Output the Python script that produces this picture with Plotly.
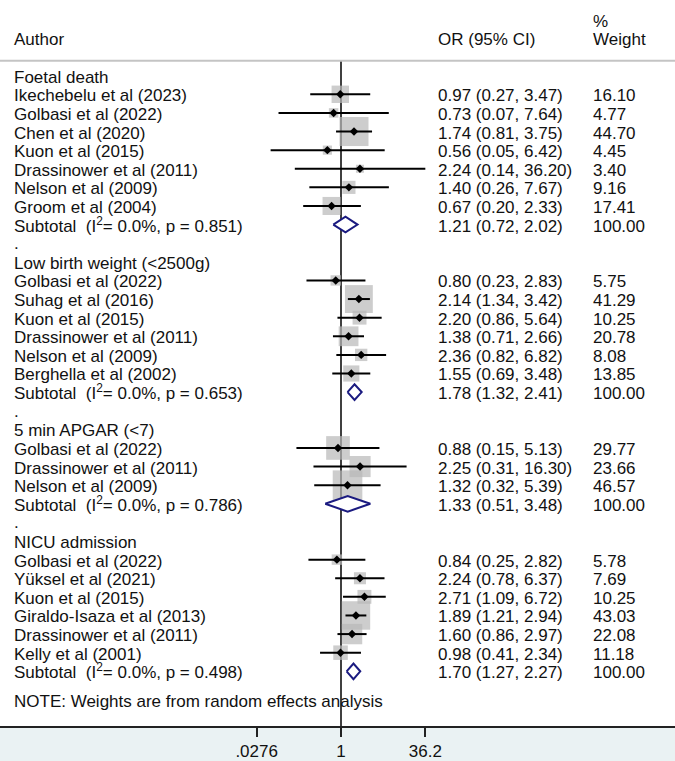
import plotly.graph_objects as go

# ---------------- data ----------------
group_names = ["Foetal death", "Low birth weight (<2500g)", "5 min APGAR (<7)", "NICU admission"]

fd_authors = ["Ikechebelu et al (2023)", "Golbasi et al (2022)", "Chen et al (2020)", "Kuon et al (2015)",
              "Drassinower et al (2011)", "Nelson et al (2009)", "Groom et al (2004)"]
fd_or = [0.97, 0.73, 1.74, 0.56, 2.24, 1.40, 0.67]
fd_lo = [0.27, 0.07, 0.81, 0.05, 0.14, 0.26, 0.20]
fd_hi = [3.47, 7.64, 3.75, 6.42, 36.20, 7.67, 2.33]
fd_w = [16.10, 4.77, 44.70, 4.45, 3.40, 9.16, 17.41]

lbw_authors = ["Golbasi et al (2022)", "Suhag et al (2016)", "Kuon et al (2015)", "Drassinower et al (2011)",
               "Nelson et al (2009)", "Berghella et al (2002)"]
lbw_or = [0.80, 2.14, 2.20, 1.38, 2.36, 1.55]
lbw_lo = [0.23, 1.34, 0.86, 0.71, 0.82, 0.69]
lbw_hi = [2.83, 3.42, 5.64, 2.66, 6.82, 3.48]
lbw_w = [5.75, 41.29, 10.25, 20.78, 8.08, 13.85]

apgar_authors = ["Golbasi et al (2022)", "Drassinower et al (2011)", "Nelson et al (2009)"]
apgar_or = [0.88, 2.25, 1.32]
apgar_lo = [0.15, 0.31, 0.32]
apgar_hi = [5.13, 16.30, 5.39]
apgar_w = [29.77, 23.66, 46.57]

nicu_authors = ["Golbasi et al (2022)", "Yüksel et al (2021)", "Kuon et al (2015)", "Giraldo-Isaza et al (2013)",
                "Drassinower et al (2011)", "Kelly et al (2001)"]
nicu_or = [0.84, 2.24, 2.71, 1.89, 1.60, 0.98]
nicu_lo = [0.25, 0.78, 1.09, 1.21, 0.86, 0.41]
nicu_hi = [2.82, 6.37, 6.72, 2.94, 2.97, 2.34]
nicu_w = [5.78, 7.69, 10.25, 43.03, 22.08, 11.18]

sub_or = [1.21, 1.78, 1.33, 1.70]
sub_lo = [0.72, 1.32, 0.51, 1.27]
sub_hi = [2.02, 2.41, 3.48, 2.27]
sub_i2 = ["0.0%", "0.0%", "0.0%", "0.0%"]
sub_p = ["0.851", "0.653", "0.786", "0.498"]

tick_vals = [0.0276, 1, 36.2]
tick_text = [".0276", "1", "36.2"]

note_text = "NOTE: Weights are from random effects analysis"

groups = [
    (fd_authors, fd_or, fd_lo, fd_hi, fd_w),
    (lbw_authors, lbw_or, lbw_lo, lbw_hi, lbw_w),
    (apgar_authors, apgar_or, apgar_lo, apgar_hi, apgar_w),
    (nicu_authors, nicu_or, nicu_lo, nicu_hi, nicu_w),
]

# ---------------- layout constants ----------------
W, H = 675, 761
FONT = "Arial, Liberation Sans, Helvetica, sans-serif"
FS = 17
TXT = "#111111"
ROW_PX = 18.69
PLOT_H = 729
ROW0_PX = 76
y_top = -ROW0_PX / ROW_PX
y_bot = (PLOT_H - ROW0_PX) / ROW_PX
T_OFF = 0.08  # small downward nudge of text rows

px_per_dec = 54.1
x_r0 = -341 / px_per_dec
x_r1 = (W - 341) / px_per_dec

X_LABEL = 12 / W
X_OR = 436 / W
X_WT = 591 / W

annotations = []
def add_text(xp, y, text):
    annotations.append(dict(x=xp, y=y + T_OFF, xref="paper", yref="y", text=text, showarrow=False,
                            xanchor="left", yanchor="middle",
                            font=dict(family=FONT, size=FS, color=TXT)))

# headers
add_text(X_LABEL, -2, "Author")
add_text(X_OR, -2, "OR (95% CI)")
add_text(X_WT, -3, "%")
add_text(X_WT, -2, "Weight")

box_x, box_y, box_s = [], [], []
ci_x, ci_y = [], []
pt_x, pt_y = [], []
diamonds = []

row = 0
for gi, (auth, orv, lo, hi, w) in enumerate(groups):
    if gi > 0:
        add_text(X_LABEL, row - 0.05, ".")
        row += 1
    add_text(X_LABEL, row, group_names[gi])
    row += 1
    for a, o, l, h, ww in zip(auth, orv, lo, hi, w):
        add_text(X_LABEL, row, a)
        add_text(X_OR, row, f"{o:.2f} ({l:.2f}, {h:.2f})")
        add_text(X_WT, row, f"{ww:.2f}")
        box_x.append(o); box_y.append(row); box_s.append(4.34 * ww ** 0.5)
        ci_x += [l, h, None]; ci_y += [row, row, None]
        pt_x.append(o); pt_y.append(row)
        row += 1
    add_text(X_LABEL, row - 0.07, f"Subtotal\u00a0 (I<sup>2</sup>= {sub_i2[gi]}, p = {sub_p[gi]})")
    add_text(X_OR, row, f"{sub_or[gi]:.2f} ({sub_lo[gi]:.2f}, {sub_hi[gi]:.2f})")
    add_text(X_WT, row, "100.00")
    diamonds.append((sub_lo[gi], sub_or[gi], sub_hi[gi], row))
    row += 1

add_text(X_LABEL, row + 0.55, note_text)

fig = go.Figure()

fig.add_trace(go.Scatter(x=box_x, y=box_y, mode="markers",
                         marker=dict(symbol="square", size=box_s, color="#b8b8b8", line=dict(width=0)),
                         hoverinfo="skip", showlegend=False))
fig.add_trace(go.Scatter(x=ci_x, y=ci_y, mode="lines", line=dict(color="#000000", width=2),
                         hoverinfo="skip", showlegend=False))
fig.add_trace(go.Scatter(x=pt_x, y=pt_y, mode="markers",
                         marker=dict(symbol="diamond", size=6.5, color="#000000", line=dict(width=0)),
                         hoverinfo="skip", showlegend=False))
DH = 0.42
for lo, est, hi, r in diamonds:
    fig.add_trace(go.Scatter(x=[lo, est, hi, est, lo], y=[r, r - DH, r, r + DH, r], mode="lines",
                             fill="toself", fillcolor="white", line=dict(color="#1a1a80", width=2),
                             hoverinfo="skip", showlegend=False))

shapes = [
    dict(type="line", xref="x", yref="y", x0=1, x1=1, y0=-0.8, y1=y_bot, layer="below",
         line=dict(color="#000000", width=1.5)),
    dict(type="line", xref="paper", yref="y", x0=0, x1=1, y0=-0.8, y1=-0.8,
         line=dict(color="#c4c4c4", width=2)),
]

fig.update_layout(
    width=W, height=H,
    margin=dict(l=0, r=0, t=0, b=H - PLOT_H, pad=0),
    paper_bgcolor="#eaf2f3", plot_bgcolor="#ffffff",
    annotations=annotations, shapes=shapes,
    xaxis=dict(type="log", range=[x_r0, x_r1], tickvals=tick_vals, ticktext=tick_text,
               ticks="outside", ticklen=9, tickwidth=1.5, tickcolor="#222222",
               showline=True, linecolor="#222222", linewidth=2, showgrid=False, zeroline=False,
               tickfont=dict(family=FONT, size=FS, color=TXT), fixedrange=True),
    yaxis=dict(range=[y_bot, y_top], visible=False, showgrid=False, zeroline=False, fixedrange=True),
    showlegend=False,
)

fig.write_html("out.html")
